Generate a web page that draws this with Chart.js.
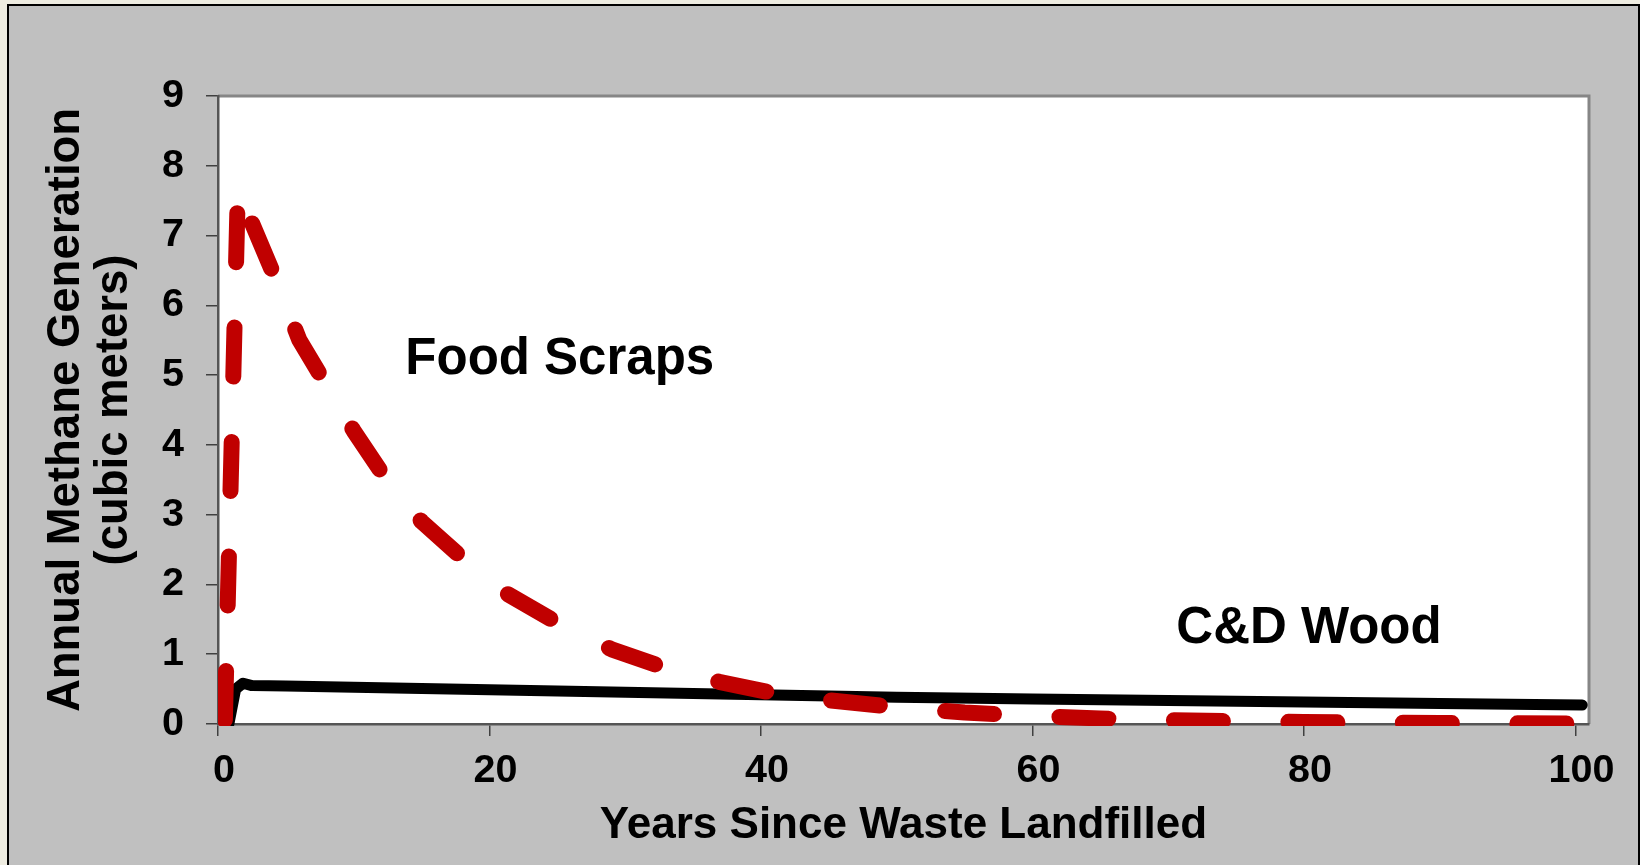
<!DOCTYPE html>
<html>
<head>
<meta charset="utf-8">
<script src="https://cdn.jsdelivr.net/npm/chart.js@4.4.0/dist/chart.umd.min.js"></script>
<style>
html,body{margin:0;padding:0;background:#EEECE1;width:1640px;height:865px;overflow:hidden}
#frame{position:absolute;left:7px;top:4px;width:1629px;height:900px;background:#C0C0C0;border:2px solid #000;}
#wrap{position:absolute;left:0;top:0;width:1640px;height:865px}
</style>
</head>
<body>
<div id="frame"></div>
<div id="wrap"><canvas id="c" width="1640" height="865"></canvas></div>
<script>
// ---- data ----
const foodYears   = [0.5, 1.45, 1.8, 2.5, 4, 6, 8, 10, 12, 15, 18, 21, 25, 29, 33, 37, 41, 45, 50, 55, 60, 65, 70, 75, 80, 85, 90, 95, 100];
const foodMethane = [0, 7.55, 7.7, 7.18, 6.49, 5.5, 4.85, 4.2, 3.62, 2.9, 2.38, 1.9, 1.45, 1.07, 0.8, 0.6, 0.44, 0.34, 0.24, 0.165, 0.115, 0.08, 0.055, 0.04, 0.028, 0.02, 0.014, 0.01, 0.007];

const woodYears   = [0.8, 1.3, 1.85, 2.5, 5, 10, 20, 30, 40, 50, 60, 70, 80, 90, 100.5];
const woodMethane = [0, 0.5, 0.585, 0.55, 0.545, 0.525, 0.49, 0.455, 0.42, 0.385, 0.358, 0.335, 0.315, 0.295, 0.272];

const xTickValues = [0, 20, 40, 60, 80, 100];
const yTickValues = [0, 1, 2, 3, 4, 5, 6, 7, 8, 9];

const xAxisTitle = 'Years Since Waste Landfilled';
const yAxisTitle = ['Annual Methane Generation', '(cubic meters)'];

const seriesNames = ['Food Scraps', 'C&D Wood'];
// label anchor (data coords: left edge, text baseline)
const labelX = [13.8, 70.6];
const labelY = [5.02, 1.16];

// ---- chart ----
const FONT = '"Liberation Sans", Arial, sans-serif';

const toPoints = (xs, ys) => xs.map((x, i) => ({x: x, y: ys[i]}));

const plotFrame = {
  id: 'plotFrame',
  beforeDraw(chart) {
    const {ctx, chartArea: a} = chart;
    ctx.save();
    ctx.fillStyle = '#FFFFFF';
    ctx.fillRect(a.left, a.top, a.right - a.left, a.bottom - a.top);
    ctx.strokeStyle = '#868686';
    ctx.lineWidth = 3;
    ctx.beginPath();
    ctx.moveTo(a.left, a.top);
    ctx.lineTo(a.right, a.top);
    ctx.lineTo(a.right, a.bottom);
    ctx.stroke();
    ctx.restore();
  }
};

const seriesLabels = {
  id: 'seriesLabels',
  afterDatasetsDraw(chart) {
    const {ctx, scales} = chart;
    ctx.save();
    ctx.fillStyle = '#000';
    ctx.font = 'bold 51px ' + FONT;
    ctx.textAlign = 'left';
    ctx.textBaseline = 'alphabetic';
    seriesNames.forEach((t, i) => {
      ctx.fillText(t, scales.x.getPixelForValue(labelX[i]), scales.y.getPixelForValue(labelY[i]));
    });
    ctx.restore();
  }
};

new Chart(document.getElementById('c'), {
  type: 'scatter',
  data: {
    datasets: [
      {
        label: seriesNames[0],
        data: toPoints(foodYears, foodMethane),
        showLine: true,
        borderColor: '#C00000',
        backgroundColor: '#C00000',
        borderWidth: 16,
        borderDash: [49, 65.5],
        borderDashOffset: -4,
        borderCapStyle: 'round',
        borderJoinStyle: 'round',
        tension: 0,
        pointRadius: 0,
        pointHoverRadius: 0,
        clip: {left: 0, top: 10, right: 10, bottom: 2}
      },
      {
        label: seriesNames[1],
        data: toPoints(woodYears, woodMethane),
        showLine: true,
        borderColor: '#000000',
        backgroundColor: '#000000',
        borderWidth: 11,
        borderCapStyle: 'round',
        borderJoinStyle: 'round',
        tension: 0,
        pointRadius: 0,
        pointHoverRadius: 0,
        clip: {left: 0, top: 10, right: 10, bottom: 2}
      }
    ]
  },
  options: {
    responsive: false,
    animation: false,
    devicePixelRatio: 1,
    layout: {padding: {left: 42, top: 96, right: 51, bottom: 0}},
    plugins: {legend: {display: false}, tooltip: {enabled: false}},
    scales: {
      x: {
        type: 'linear',
        min: 0,
        max: 101,
        afterBuildTicks: s => { s.ticks = xTickValues.map(v => ({value: v})); },
        afterFit: s => { s.height = 141; },
        ticks: {
          color: '#000',
          font: {family: FONT, size: 39.5, weight: 'bold'},
          padding: 11,
          labelOffset: 6,
          maxRotation: 0,
          autoSkip: false
        },
        grid: {display: true, drawOnChartArea: false, drawTicks: true, tickLength: 12, color: '#404040', lineWidth: 1.5},
        border: {display: true, color: '#555555', width: 2.5},
        title: {
          display: true,
          text: xAxisTitle,
          color: '#000',
          font: {family: FONT, size: 44, weight: 'bold', lineHeight: 1.2},
          padding: {top: 0, bottom: 13}
        }
      },
      y: {
        type: 'linear',
        min: 0,
        max: 9,
        afterBuildTicks: s => { s.ticks = yTickValues.map(v => ({value: v})); },
        afterFit: s => { s.width = 176; },
        ticks: {
          color: '#000',
          font: {family: FONT, size: 39.5, weight: 'bold'},
          padding: 22,
          autoSkip: false
        },
        grid: {display: true, drawOnChartArea: false, drawTicks: true, tickLength: 12, color: '#404040', lineWidth: 1.5},
        border: {display: true, color: '#555555', width: 2.5},
        title: {
          display: true,
          text: yAxisTitle,
          color: '#000',
          font: {family: FONT, size: 45.5, weight: 'bold', lineHeight: 1.06},
          padding: {top: 0, bottom: 0}
        }
      }
    }
  },
  plugins: [plotFrame, seriesLabels]
});
</script>
</body>
</html>
